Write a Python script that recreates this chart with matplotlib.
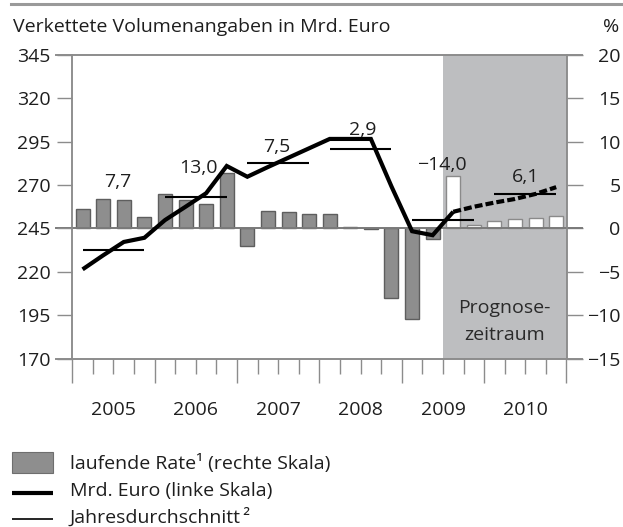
import matplotlib
matplotlib.use("Agg")
import matplotlib.pyplot as plt
from matplotlib.lines import Line2D
from matplotlib.patches import Rectangle

plt.rcParams['font.family'] = ['Open Sans', 'DejaVu Sans']

# ---------------- data ----------------
years = ['2005', '2006', '2007', '2008', '2009', '2010']
# quarterly "laufende Rate" in % (right scale)
rate = [2.2, 3.4, 3.3, 1.3,
        4.0, 3.3, 2.8, 6.4,
        -2.0, 2.0, 1.85, 1.65,
        1.65, 0.2, -0.1, -8.0,
        -10.5, -1.2, 6.0, 0.45,
        0.85, 1.05, 1.25, 1.45]
# quarterly level in Mrd. Euro (left scale)
level = [221.4, 229.5, 237.2, 239.6,
         249.8, 257.5, 265.3, 281.0,
         274.8, 280.4, 285.8, 291.2,
         296.6, 296.6, 296.6, 269.2,
         243.4, 241.1, 254.6, 257.5,
         259.9, 262.0, 264.9, 268.8]
annual_avg = [232.4, 263.0, 282.7, 291.0, 249.6, 264.9]
annual_growth = ['7,7', '13,0', '7,5', '2,9', '\u221214,0', '6,1']
forecast_start = 18          # first forecast quarter (2009 Q3)
left_ticks = [170, 195, 220, 245, 270, 295, 320, 345]
right_ticks = [-15, -10, -5, 0, 5, 10, 15, 20]

# ---------------- layout / style ----------------
label_xy = [(2.23, 271.9), (6.12, 279.7), (9.93, 291.8),
            (14.1, 301.8), (17.94, 281.6), (22.03, 274.5)]
FS = 14
GREY_LINE = '#8c8c8c'
BAR_FILL = '#8e8e8e'
BAR_EDGE = '#5e5e5e'
FORECAST_BG = '#bdbec0'
TXT = '#1e1e1e'

W, H = 623, 527
fig = plt.figure(figsize=(W / 100, H / 100), dpi=100)
ax2 = fig.add_axes([72.3 / W, 1 - 358.5 / H, 494.2 / W, 303.5 / H])
ax = ax2.twinx()
ax.yaxis.tick_left()
ax.yaxis.set_label_position('left')
ax2.yaxis.tick_right()
ax2.yaxis.set_label_position('right')
ax.set_zorder(ax2.get_zorder() + 1)
ax.patch.set_visible(False)

nq = len(rate)
ax2.set_xlim(0, nq)
ax.set_xlim(0, nq)
ax.set_ylim(left_ticks[0], left_ticks[-1])
ax2.set_ylim(right_ticks[0], right_ticks[-1])

# forecast background
ax2.axvspan(forecast_start, nq, color=FORECAST_BG, lw=0, zorder=0)

# horizontal frame lines extending over the tick marks
ext_l = -16 / 494.2
ext_r = 1 + 15.5 / 494.2
for yv in (left_ticks[0], left_ticks[-1]):
    ax.axhline(yv, xmin=ext_l, xmax=ext_r, color=GREY_LINE, lw=1.4,
               clip_on=False, zorder=1)
ax2.axhline(0, xmin=ext_l, xmax=ext_r, color='#7a7a7a', lw=1.4,
            clip_on=False, zorder=3)

# bars
xq = [i + 0.5 for i in range(nq)]
for i, (x, r) in enumerate(zip(xq, rate)):
    fc = 'white' if i >= forecast_start else BAR_FILL
    ec = '#8a8a8a' if i >= forecast_start else BAR_EDGE
    ax2.bar(x, r, width=0.68, color=fc, edgecolor=ec, linewidth=1.0, zorder=2)

# level line
ax.plot(xq[:forecast_start + 1], level[:forecast_start + 1], color='black',
        lw=3.0, solid_joinstyle='miter', solid_capstyle='butt', zorder=5)
dl, = ax.plot(xq[forecast_start:], level[forecast_start:], color='black',
              lw=3.0, zorder=5, dash_capstyle='butt')
dl.set_dashes((1.9, 0.75))

# annual averages + labels
for k, (avg, lab) in enumerate(zip(annual_avg, annual_growth)):
    ax.plot([4 * k + 0.5, 4 * k + 3.5], [avg, avg], color='black', lw=1.5,
            solid_capstyle='butt', zorder=6)
    ax.text(label_xy[k][0], label_xy[k][1], lab, ha='center', va='center',
            fontsize=FS, color=TXT, zorder=7)

# spines
for a in (ax, ax2):
    for s in ('top', 'bottom'):
        a.spines[s].set_visible(False)
    a.spines['left'].set_color(GREY_LINE)
    a.spines['right'].set_color(GREY_LINE)
    a.spines['left'].set_linewidth(1.1)
    a.spines['right'].set_linewidth(1.1)

# y ticks
ax.set_yticks(left_ticks)
ax.set_yticklabels([str(v) for v in left_ticks])
ax.tick_params(axis='y', direction='out', length=11, width=1.0,
               color=GREY_LINE, pad=4.8, labelsize=FS, labelcolor=TXT)
ax2.set_yticks(right_ticks)
ax2.set_yticklabels([str(v).replace('-', '\u2212') for v in right_ticks])
ax2.tick_params(axis='y', direction='out', length=11.3, width=1.0,
                color=GREY_LINE, pad=27.5, labelsize=FS, labelcolor=TXT)
for t in ax2.get_yticklabels():
    t.set_horizontalalignment('right')

# x ticks (on the base axes, whose x axis is visible): years long, quarters short
ax2.set_xticks(range(0, nq + 1, 4))
ax2.set_xticklabels([])
ax2.set_xticks([q for q in range(nq) if q % 4 != 0], minor=True)
ax2.tick_params(axis='x', which='major', direction='out', length=17.3,
                width=1.0, color=GREY_LINE, labelbottom=False)
ax2.tick_params(axis='x', which='minor', direction='out', length=11,
                width=1.0, color=GREY_LINE, labelbottom=False)

for k, yr in enumerate(years):
    ax.annotate(yr, xy=(4 * k + 2, 0), xycoords=('data', 'axes fraction'),
                xytext=(0, -36.8), textcoords='offset points',
                ha='center', va='center', fontsize=FS, color=TXT)

# forecast label
ax.text(21.0, 199.1, 'Prognose-', ha='center', va='center', fontsize=FS,
        color='#2a2a2a', zorder=7)
ax.text(21.0, 183.5, 'zeitraum', ha='center', va='center', fontsize=FS,
        color='#2a2a2a', zorder=7)

# header
fig.add_artist(Line2D([11 / W, 1], [1 - 3.5 / H, 1 - 3.5 / H],
                      color='#9a9a9a', lw=2.2))
fig.text(13 / W, 1 - 27 / H, 'Verkettete Volumenangaben in Mrd. Euro',
         ha='left', va='center', fontsize=FS, color=TXT)
fig.text(619 / W, 1 - 27 / H, '%', ha='right', va='center', fontsize=FS,
         color=TXT)

# legend
fig.add_artist(Rectangle((12 / W, 1 - 473 / H), 41 / W, 21.5 / H,
                         facecolor=BAR_FILL, edgecolor='#6e6e6e', lw=0.8))
fig.add_artist(Line2D([12 / W, 53 / W], [1 - 492.7 / H, 1 - 492.7 / H],
                      color='black', lw=3.0, solid_capstyle='butt'))
fig.add_artist(Line2D([12 / W, 53 / W], [1 - 519 / H, 1 - 519 / H],
                      color='black', lw=1.2, solid_capstyle='butt'))
fig.text(70 / W, 1 - 463 / H, 'laufende Rate\u00b9 (rechte Skala)',
         ha='left', va='center', fontsize=FS, color=TXT)
fig.text(70 / W, 1 - 491 / H, 'Mrd. Euro (linke Skala)',
         ha='left', va='center', fontsize=FS, color=TXT)
fig.text(70 / W, 1 - 517 / H, 'Jahresdurchschnitt\u2009\u00b2',
         ha='left', va='center', fontsize=FS, color=TXT)

fig.savefig('out.png', dpi=100)
